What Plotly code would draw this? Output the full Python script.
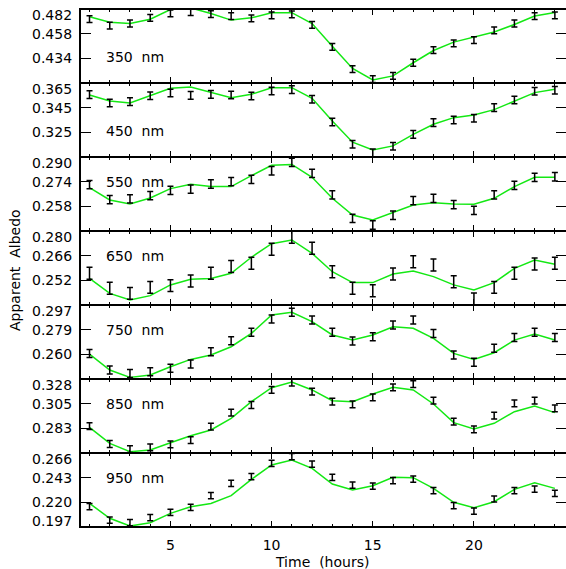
import plotly.graph_objects as go
from plotly.subplots import make_subplots

hours = list(range(1, 25))

wavelengths = ["350", "450", "550", "650", "750", "850", "950"]

obs_350 = [0.4721, 0.4659, 0.4679, 0.4734, 0.4777, 0.4790, 0.4771, 0.4751, 0.4728, 0.4758, 0.4767, 0.4665,
           0.4452, 0.4235, 0.4137, 0.4169, 0.4297, 0.4419, 0.4485, 0.4517, 0.4613, 0.4679, 0.4751, 0.4758]
fit_350 = [0.4744, 0.4692, 0.4679, 0.4721, 0.4815, 0.4830, 0.4777, 0.4712, 0.4734, 0.4784, 0.4784, 0.4679,
           0.4458, 0.4241, 0.4130, 0.4169, 0.4297, 0.4416, 0.4498, 0.4547, 0.4596, 0.4669, 0.4751, 0.4787]

obs_450 = [0.3556, 0.3488, 0.3499, 0.3547, 0.3569, 0.3550, 0.3558, 0.3553, 0.3545, 0.3585, 0.3596, 0.3518,
           0.3334, 0.3153, 0.3083, 0.3137, 0.3234, 0.3329, 0.3350, 0.3364, 0.3450, 0.3512, 0.3583, 0.3591]
fit_450 = [0.3553, 0.3504, 0.3488, 0.3545, 0.3607, 0.3618, 0.3572, 0.3531, 0.3558, 0.3612, 0.3612, 0.3526,
           0.3342, 0.3170, 0.3107, 0.3140, 0.3234, 0.3315, 0.3369, 0.3391, 0.3434, 0.3504, 0.3572, 0.3599]

obs_550 = [0.2721, 0.2623, 0.2628, 0.2649, 0.2684, 0.2692, 0.2725, 0.2740, 0.2755, 0.2811, 0.2865, 0.2794,
           0.2654, 0.2502, 0.2459, 0.2522, 0.2617, 0.2632, 0.2591, 0.2554, 0.2654, 0.2716, 0.2768, 0.2772]
fit_550 = [0.2701, 0.2621, 0.2595, 0.2634, 0.2695, 0.2723, 0.2708, 0.2708, 0.2779, 0.2846, 0.2852, 0.2768,
           0.2632, 0.2524, 0.2491, 0.2539, 0.2589, 0.2604, 0.2595, 0.2593, 0.2632, 0.2708, 0.2768, 0.2768]

obs_650 = [0.2560, 0.2475, 0.2446, 0.2480, 0.2490, 0.2516, 0.2560, 0.2598, 0.2617, 0.2696, 0.2764, 0.2702,
           0.2569, 0.2475, 0.2461, 0.2556, 0.2626, 0.2607, 0.2512, 0.2414, 0.2480, 0.2560, 0.2613, 0.2617]
fit_650 = [0.2531, 0.2446, 0.2408, 0.2433, 0.2494, 0.2526, 0.2531, 0.2560, 0.2651, 0.2728, 0.2749, 0.2673,
           0.2569, 0.2507, 0.2507, 0.2556, 0.2573, 0.2541, 0.2494, 0.2465, 0.2507, 0.2588, 0.2635, 0.2611]

obs_750 = [0.2607, 0.2482, 0.2457, 0.2470, 0.2495, 0.2527, 0.2620, 0.2702, 0.2765, 0.2865, 0.2915, 0.2857,
           0.2765, 0.2700, 0.2732, 0.2820, 0.2857, 0.2757, 0.2595, 0.2540, 0.2645, 0.2727, 0.2765, 0.2727]
fit_750 = [0.2602, 0.2482, 0.2427, 0.2445, 0.2507, 0.2562, 0.2595, 0.2657, 0.2757, 0.2895, 0.2915, 0.2845,
           0.2745, 0.2707, 0.2745, 0.2807, 0.2795, 0.2720, 0.2607, 0.2562, 0.2612, 0.2707, 0.2752, 0.2707]

obs_850 = [0.2851, 0.2687, 0.2641, 0.2657, 0.2684, 0.2723, 0.2845, 0.2973, 0.3043, 0.3180, 0.3247, 0.3164,
           0.3073, 0.3049, 0.3113, 0.3204, 0.3234, 0.3082, 0.2891, 0.2821, 0.2945, 0.3058, 0.3082, 0.3012]
fit_850 = [0.2839, 0.2693, 0.2617, 0.2632, 0.2699, 0.2763, 0.2815, 0.2921, 0.3073, 0.3201, 0.3253, 0.3180,
           0.3082, 0.3073, 0.3143, 0.3204, 0.3180, 0.3052, 0.2882, 0.2824, 0.2876, 0.2982, 0.3034, 0.2973]

obs_950 = [0.2159, 0.2035, 0.2010, 0.2057, 0.2107, 0.2153, 0.2262, 0.2377, 0.2439, 0.2564, 0.2626, 0.2557,
           0.2433, 0.2361, 0.2352, 0.2402, 0.2417, 0.2309, 0.2169, 0.2119, 0.2231, 0.2309, 0.2324, 0.2284]
fit_950 = [0.2190, 0.2051, 0.1979, 0.2010, 0.2097, 0.2159, 0.2190, 0.2262, 0.2414, 0.2548, 0.2595, 0.2517,
           0.2371, 0.2315, 0.2355, 0.2433, 0.2430, 0.2330, 0.2200, 0.2150, 0.2206, 0.2321, 0.2383, 0.2330]

errors = [0.0033, 0.0031, 0.0027, 0.0034, 0.0030, 0.0031, 0.0029]

y_ranges = [[0.410, 0.482], [0.305, 0.365], [0.242, 0.290], [0.238, 0.280],
            [0.2415, 0.297], [0.2605, 0.328], [0.197, 0.266]]
y_tickvals = [[0.482, 0.458, 0.434], [0.365, 0.345, 0.325], [0.290, 0.274, 0.258], [0.280, 0.266, 0.252],
              [0.297, 0.2785, 0.260], [0.328, 0.3055, 0.283], [0.266, 0.243, 0.220, 0.197]]
y_ticktext = [["0.482", "0.458", "0.434"], ["0.365", "0.345", "0.325"], ["0.290", "0.274", "0.258"],
              ["0.280", "0.266", "0.252"], ["0.297", "0.279", "0.260"], ["0.328", "0.305", "0.283"],
              ["0.266", "0.243", "0.220", "0.197"]]

x_range = [0.53, 24.55]
x_tickvals = [5, 10, 15, 20]
x_ticktext = ["5", "10", "15", "20"]

observed = [obs_350, obs_450, obs_550, obs_650, obs_750, obs_850, obs_950]
fitted = [fit_350, fit_450, fit_550, fit_650, fit_750, fit_850, fit_950]

# ---- layout geometry (pixels) ----
W, H = 568, 569             # 2 px wider than the window: right frame falls just outside, as in the reference
LW = 2                      # frame line width
PANEL = 74                  # distance between frame line centres
TOP = 9                     # centre of the top frame line
LEFT = 80                   # centre of the left frame line
N = 7
plot_top = TOP + LW / 2
plot_h = N * PANEL - LW
plot_bottom = plot_top + plot_h
plot_left = LEFT + LW / 2
px_per_hour = (W - LEFT) / (x_range[1] - x_range[0])
x_rng = [x_range[0] + (LW / 2) / px_per_hour, x_range[1]]

FONT = "DejaVu Sans"
FS = 14
label_pos = [0.35, 0.35, 0.67, 0.67, 0.67, 0.67, 0.67]

fig = make_subplots(rows=N, cols=1, shared_xaxes=True, vertical_spacing=0)

annotations = []
for i in range(N):
    row = i + 1
    fig.add_trace(go.Scatter(x=hours, y=fitted[i], mode="lines",
                             line=dict(color="#14e814", width=1.5), showlegend=False,
                             hoverinfo="skip"), row=row, col=1)
    fig.add_trace(go.Scatter(x=hours, y=observed[i], mode="markers",
                             marker=dict(size=2, color="rgba(0,0,0,0)"),
                             error_y=dict(type="constant", value=errors[i], color="black",
                                          thickness=1.5, width=3),
                             showlegend=False), row=row, col=1)
    lo, hi = y_ranges[i]
    upp = (hi - lo) / PANEL
    rng = [lo + upp * LW / 2, hi - upp * LW / 2]
    top_px = i * PANEL
    bot_px = top_px + PANEL - LW
    dom = [1 - bot_px / plot_h, 1 - top_px / plot_h]
    dom = [max(0.0, dom[0]), min(1.0, dom[1])]
    fig.update_yaxes(range=rng, domain=dom, tickvals=y_tickvals[i], showticklabels=False,
                     ticks="inside", ticklen=10, tickwidth=1, tickcolor="black",
                     showline=True, linewidth=LW, linecolor="black", mirror="allticks",
                     showgrid=False, zeroline=False, row=row, col=1)
    yref = "y" if i == 0 else f"y{row}"
    n = len(y_tickvals[i])
    for j, (v, t) in enumerate(zip(y_tickvals[i], y_ticktext[i])):
        shift = 0
        if j == 0:
            shift = -6
        elif i == N - 1 and j == n - 1:
            shift = 6
        frac = (v - rng[0]) / (rng[1] - rng[0])
        py = dom[0] + frac * (dom[1] - dom[0])
        annotations.append(dict(x=0, xref="paper", xanchor="right", xshift=-7,
                                y=py, yref="paper", yanchor="middle", yshift=shift,
                                text=t, showarrow=False,
                                font=dict(family=FONT, size=FS, color="black")))
    annotations.append(dict(x=0.047 * 485 / (W - plot_left), xref="paper", xanchor="left",
                            y=label_pos[i], yref=f"{yref} domain", yanchor="middle",
                            text=f"{wavelengths[i]}\u00a0 nm", showarrow=False,
                            font=dict(family=FONT, size=FS, color="black")))

fig.update_xaxes(range=x_rng, tickvals=x_tickvals, ticktext=x_ticktext,
                 ticks="inside", ticklen=5, tickwidth=1, tickcolor="black",
                 minor=dict(ticks="inside", ticklen=2, dtick=1, tick0=0, tickcolor="black"),
                 showline=True, linewidth=LW, linecolor="black", mirror="allticks",
                 showgrid=False, zeroline=False, showticklabels=False)
fig.update_xaxes(showticklabels=True, tickfont=dict(family=FONT, size=FS, color="black"),
                 ticklabelstandoff=5, row=N, col=1)

annotations.append(dict(x=(323 - plot_left) / (W - plot_left), xref="paper", xanchor="center",
                        y=0, yref="paper", yanchor="middle", yshift=-36,
                        text="Time\u00a0 (hours)", showarrow=False,
                        font=dict(family=FONT, size=FS, color="black")))
annotations.append(dict(x=0, xref="paper", xanchor="center", xshift=-66,
                        y=0.5, yref="paper", yanchor="middle", yshift=-2,
                        text="Apparent\u00a0 Albedo", textangle=-90, showarrow=False,
                        font=dict(family=FONT, size=FS, color="black")))

fig.update_layout(width=W, height=H,
                  margin=dict(l=plot_left, r=0, t=plot_top, b=H - plot_bottom, pad=0),
                  paper_bgcolor="white", plot_bgcolor="white",
                  annotations=annotations, showlegend=False)

fig.write_html("out.html", config={"displayModeBar": False},
               post_script="document.body.style.margin='0';"
                           "document.documentElement.style.overflow='hidden';"
                           "document.body.style.overflow='hidden';")
